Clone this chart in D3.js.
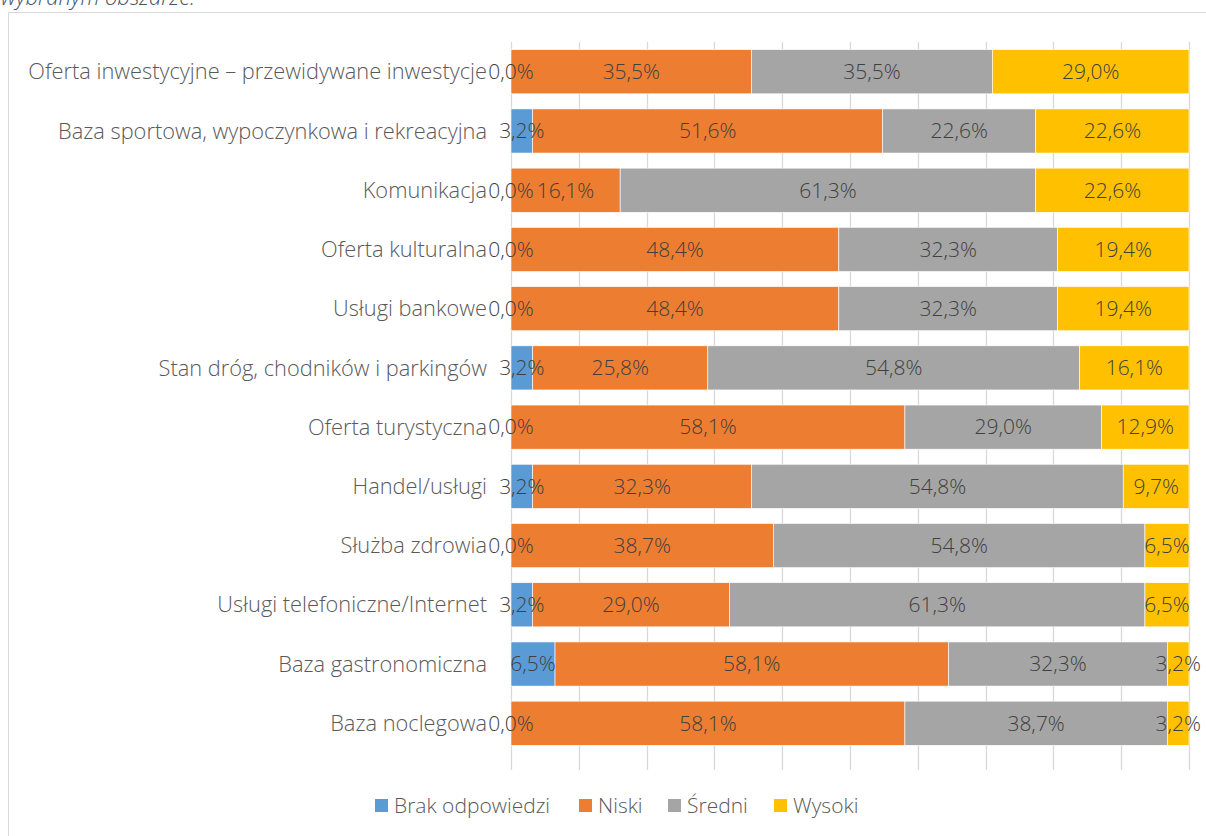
<!DOCTYPE html>
<html><head><meta charset="utf-8">
<script src="https://cdn.jsdelivr.net/npm/d3@7"></script>
<style>
html,body{margin:0;padding:0;background:#fff;}
svg{display:block;}
</style></head>
<body>
<svg id="c" width="1206" height="836"></svg>
<script>
const categories = [
  "Oferta inwestycyjne – przewidywane inwestycje",
  "Baza sportowa, wypoczynkowa i rekreacyjna",
  "Komunikacja",
  "Oferta kulturalna",
  "Usługi bankowe",
  "Stan dróg, chodników i parkingów",
  "Oferta turystyczna",
  "Handel/usługi",
  "Służba zdrowia",
  "Usługi telefoniczne/Internet",
  "Baza gastronomiczna",
  "Baza noclegowa"
];
const seriesNames = ["Brak odpowiedzi", "Niski", "Średni", "Wysoki"];
const brak   = [0.0, 3.2, 0.0, 0.0, 0.0, 3.2, 0.0, 3.2, 0.0, 3.2, 6.5, 0.0];
const niski  = [35.5, 51.6, 16.1, 48.4, 48.4, 25.8, 58.1, 32.3, 38.7, 29.0, 58.1, 58.1];
const sredni = [35.5, 22.6, 61.3, 32.3, 32.3, 54.8, 29.0, 54.8, 54.8, 61.3, 32.3, 38.7];
const wysoki = [29.0, 22.6, 22.6, 19.4, 19.4, 16.1, 12.9, 9.7, 6.5, 6.5, 3.2, 3.2];
const colors = ["#5b9bd5", "#ed7d31", "#a5a5a5", "#ffc000"];
const xTicks = [0,0.1,0.2,0.3,0.4,0.5,0.6,0.7,0.8,0.9,1];

const seriesValues = [brak, niski, sredni, wysoki];
const FONT = "'Open Sans', sans-serif";
const FS = 21;

const svg = d3.select("#c");

// cut-off title and frame
svg.append("text").attr("x", 1).attr("y", 5)
  .attr("font-family", FONT).attr("font-style", "italic").attr("font-weight", 300)
  .attr("font-size", 22).attr("fill", "#44546a").text("wybranym obszarze.");
svg.append("rect").attr("x", 8.5).attr("y", 12.5).attr("width", 1210).attr("height", 840)
  .attr("fill", "none").attr("stroke", "#d9d9d9").attr("stroke-width", 1);

const rows = categories.map((c, i) => {
  const vals = seriesValues.map(s => s[i]);
  const total = d3.sum(vals);
  const o = {cat: c};
  seriesNames.forEach((n, j) => { o[n] = vals[j] / total; o[n + "_raw"] = vals[j]; });
  return o;
});

const x = d3.scaleLinear().domain([0, 1]).range([511, 1189]);
const y = d3.scaleBand().domain(categories).range([42, 753]).paddingInner(0.255).paddingOuter(0.13);

// gridlines
svg.append("g").selectAll("line").data(xTicks).join("line")
  .attr("x1", d => Math.round(x(d)) + 0.5).attr("x2", d => Math.round(x(d)) + 0.5)
  .attr("y1", 42).attr("y2", 770)
  .attr("stroke", "#d9d9d9").attr("stroke-width", 1.3);

const stack = d3.stack().keys(seriesNames)(rows);

const g = svg.append("g");
stack.forEach((layer, j) => {
  g.append("g").selectAll("rect").data(layer).join("rect")
    .attr("x", d => x(d[0]))
    .attr("y", d => y(d.data.cat))
    .attr("width", d => x(d[1]) - x(d[0]))
    .attr("height", y.bandwidth())
    .attr("fill", colors[j])
    .attr("stroke", "#fff").attr("stroke-width", 0.6);
});

// data labels
const fmt = v => v.toFixed(1).replace(".", ",") + "%";
stack.forEach((layer, j) => {
  g.append("g").selectAll("text").data(layer).join("text")
    .attr("x", d => (x(d[0]) + x(d[1])) / 2)
    .attr("y", d => y(d.data.cat) + y.bandwidth() / 2)
    .attr("dy", "0.35em")
    .attr("text-anchor", "middle")
    .attr("font-family", FONT).attr("font-weight", 300).attr("font-size", FS)
    .attr("fill", "#404040")
    .text(d => fmt(d.data[seriesNames[j] + "_raw"]));
});

// category axis
svg.append("g").selectAll("text").data(categories).join("text")
  .attr("x", 487)
  .attr("y", d => y(d) + y.bandwidth() / 2)
  .attr("dy", "0.35em")
  .attr("text-anchor", "end")
  .attr("font-family", FONT).attr("font-weight", 300).attr("font-size", 21.8)
  .attr("fill", "#595959")
  .text(d => d);

// legend
const legendX = [375, 579, 668, 774];
const lg = svg.append("g");
seriesNames.forEach((n, j) => {
  lg.append("rect").attr("x", legendX[j]).attr("y", 799).attr("width", 13).attr("height", 13).attr("fill", colors[j]);
  lg.append("text").attr("x", legendX[j] + 19).attr("y", 806).attr("dy", "0.35em")
    .attr("font-family", FONT).attr("font-weight", 300).attr("font-size", FS)
    .attr("fill", "#595959").text(n);
});
</script>
</body></html>
